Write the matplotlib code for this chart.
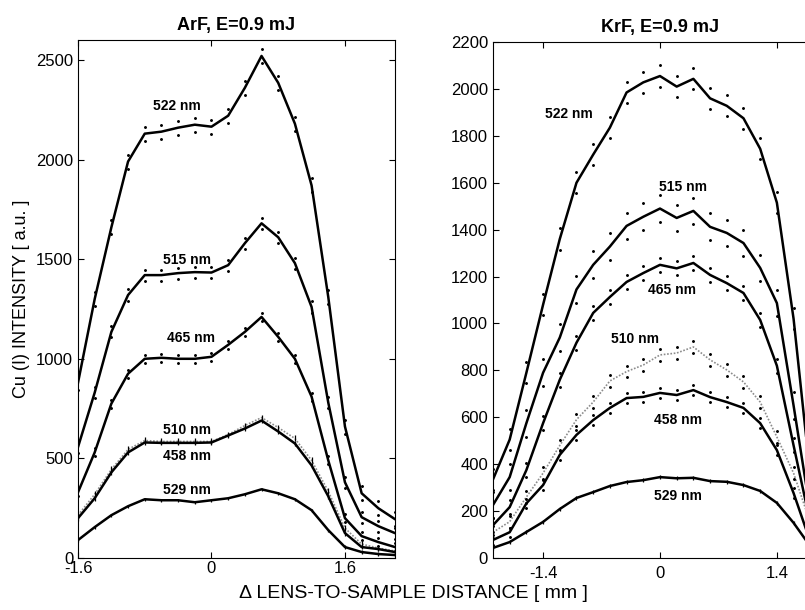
import matplotlib.pyplot as plt

plt.rcParams['font.family'] = ['Liberation Sans', 'DejaVu Sans']

# lens-to-sample distance [mm]
x_arf = [-1.6, -1.4, -1.2, -1.0, -0.8, -0.6, -0.4, -0.2, 0.0, 0.2,
         0.4, 0.6, 0.8, 1.0, 1.2, 1.4, 1.6, 1.8, 2.0, 2.2]
x_krf = [-2.0, -1.8, -1.6, -1.4, -1.2, -1.0, -0.8, -0.6, -0.4, -0.2,
         0.0, 0.2, 0.4, 0.6, 0.8, 1.0, 1.2, 1.4, 1.6, 1.8]

# ArF, E=0.9 mJ
arf_522 = [880, 1300, 1660, 1990, 2130, 2140, 2160, 2175, 2165, 2220,
           2360, 2520, 2385, 2180, 1870, 1310, 660, 325, 250, 195]
arf_515 = [557, 830, 1135, 1320, 1420, 1420, 1430, 1435, 1433, 1470,
           1580, 1680, 1610, 1480, 1260, 780, 380, 205, 160, 125]
arf_465 = [330, 530, 775, 925, 1000, 1005, 1000, 1000, 1010, 1070,
           1135, 1210, 1110, 1000, 810, 490, 200, 110, 80, 55]
arf_510 = [215, 320, 445, 545, 590, 585, 585, 585, 585, 620,
           665, 705, 655, 600, 490, 335, 150, 70, 50, 35]
arf_458 = [200, 300, 430, 530, 580, 578, 578, 578, 580, 615,
           650, 690, 635, 575, 465, 310, 125, 55, 45, 30]
arf_529 = [90, 155, 215, 260, 295, 290, 290, 280, 290, 300,
           320, 345, 325, 295, 240, 140, 55, 30, 20, 15]

# KrF, E=0.9 mJ
krf_522 = [335, 505, 790, 1080, 1360, 1600, 1720, 1835, 1985, 2028,
           2055, 2010, 2043, 1960, 1928, 1875, 1745, 1515, 1020, 350]
krf_515 = [226, 345, 575, 790, 940, 1145, 1250, 1328, 1416, 1455,
           1490, 1450, 1480, 1412, 1386, 1343, 1237, 1087, 650, 200]
krf_465 = [140, 217, 375, 575, 760, 918, 1045, 1113, 1177, 1215,
           1250, 1235, 1258, 1207, 1172, 1130, 1015, 820, 480, 150]
krf_510 = [110, 155, 260, 362, 480, 590, 665, 755, 795, 823,
           866, 874, 900, 845, 802, 751, 665, 516, 362, 150]
krf_458 = [77, 110, 233, 311, 440, 525, 588, 640, 682, 687,
           704, 695, 716, 686, 665, 640, 575, 460, 277, 70]
krf_529 = [43, 68, 111, 154, 209, 256, 281, 307, 324, 332,
           345, 340, 342, 328, 325, 311, 286, 235, 150, 50]

arf_err = {'522': 35, '515': 28, '465': 20, '510': 15, '458': 12, '529': 8}
krf_err = {'522': 45, '515': 57, '465': 30, '510': 25, '458': 20, '529': 8}

arf_series = {'522': arf_522, '515': arf_515, '465': arf_465,
              '510': arf_510, '458': arf_458, '529': arf_529}
krf_series = {'522': krf_522, '515': krf_515, '465': krf_465,
              '510': krf_510, '458': krf_458, '529': krf_529}

arf_labels = {'522': (-0.42, 2270), '515': (-0.29, 1496), '465': (-0.24, 1104),
              '510': (-0.29, 643), '458': (-0.29, 512), '529': (-0.29, 341)}
krf_labels = {'522': (-1.09, 1893), '515': (0.27, 1582), '465': (0.14, 1143),
              '510': (-0.30, 934), '458': (0.21, 588), '529': (0.22, 264)}

arf_ticked = {'510', '458', '529'}
krf_ticked = {'529'}


def draw_panel(ax, x, series, errs, labels, ticked):
    for name, y in series.items():
        e = errs[name]
        if name == '510':
            ax.plot(x, y, color='0.55', lw=1.2, ls=(0, (1, 1)), zorder=2)
        else:
            ax.plot(x, y, color='k', lw=1.8, zorder=3)
        if name in ticked:
            ax.errorbar(x, y, yerr=e, fmt='none', ecolor='k', elinewidth=0.9, capsize=0, zorder=3)
        else:
            ax.plot(x, [v + e for v in y], ls='none', marker='.', ms=2.2, color='k')
            ax.plot(x, [v - e for v in y], ls='none', marker='.', ms=2.2, color='k')
        lx, ly = labels[name]
        ax.text(lx, ly, f'{name} nm', fontsize=10, fontweight='bold', ha='center', va='center')
    ax.tick_params(direction='in', top=True, right=True, labelsize=12, length=4)


fig = plt.figure(figsize=(8.05, 6.10), dpi=100)

ax1 = fig.add_axes([0.0969, 0.0852, 0.3938, 0.8492])
draw_panel(ax1, x_arf, arf_series, arf_err, arf_labels, arf_ticked)
ax1.set_xlim(-1.6, 2.2)
ax1.set_ylim(0, 2600)
ax1.set_xticks([-1.6, 0, 1.6])
ax1.set_xticklabels(['-1.6', '0', '1.6'])
ax1.set_yticks([0, 500, 1000, 1500, 2000, 2500])
ax1.tick_params(axis='x', pad=2)
ax1.set_title('ArF, E=0.9 mJ', fontsize=13, fontweight='bold', pad=7)
ax1.set_ylabel('Cu (I) INTENSITY [ a.u. ]', fontsize=13, labelpad=4)

ax2 = fig.add_axes([0.6124, 0.0852, 0.4149, 0.8459])
draw_panel(ax2, x_krf, krf_series, krf_err, krf_labels, krf_ticked)
ax2.set_xlim(-2.0, 2.0)
ax2.set_ylim(0, 2200)
ax2.set_xticks([-1.4, 0, 1.4])
ax2.set_xticklabels(['-1.4', '0', '1.4'])
ax2.set_yticks(range(0, 2201, 200))
ax2.tick_params(axis='x', pad=6)
ax2.set_title('KrF, E=0.9 mJ', fontsize=13, fontweight='bold', pad=7)

fig.text(0.513, 0.027, '\u0394 LENS-TO-SAMPLE DISTANCE [ mm ]', fontsize=14, ha='center', va='center')

fig.savefig('out.png', dpi=100)
plt.close(fig)
